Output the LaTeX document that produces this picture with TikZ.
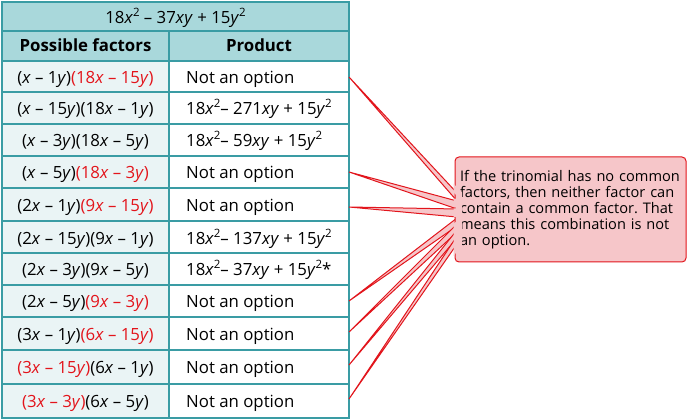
\documentclass[tikz,border=0pt]{standalone}
\usepackage{fontspec}
\setmainfont{Open Sans}
\definecolor{tblline}{HTML}{3A9CA4}
\definecolor{tblhead}{HTML}{A9D8DB}
\definecolor{tblleft}{HTML}{EAF4F5}
\definecolor{redtxt}{HTML}{E3141B}
\definecolor{calfill}{HTML}{F6C6C9}
\definecolor{calline}{HTML}{E2151C}
\newcommand{\vX}{\textit{x}}
\newcommand{\vY}{\textit{y}}
\newcommand{\sqr}{\raisebox{0.42em}{\fontsize{11.5}{12}\selectfont 2}}
\newcommand{\rd}[1]{\textcolor{redtxt}{#1}}
\frenchspacing
\tikzset{
  cellfont/.style={font=\fontsize{16.8}{19}\selectfont, inner sep=0pt, text=black},
  cellL/.style={cellfont, anchor=base},
  cellR/.style={cellfont, anchor=base west},
  headcell/.style={cellfont, anchor=base, font=\fontsize{16.8}{19}\selectfont\bfseries},
  grid/.style={draw=tblline, line width=2pt},
  spike/.style={fill=calfill, draw=calline, line width=1pt, line join=miter},
  callbox/.style={fill=calfill, draw=calline, line width=1pt, rounded corners=4pt,
    minimum width=231pt, minimum height=105pt, inner xsep=5pt, inner ysep=0pt,
    text width=221pt, align=left, font=\fontsize{14.6}{16}\selectfont\frenchspacing, text=black}
}
\begin{document}
\begin{tikzpicture}[x=1pt,y=-1pt]
\useasboundingbox (0,0) rectangle (687,419);
% table backgrounds
\fill[tblhead] (2,2) rectangle (349,61.5);
\fill[tblleft] (2,61.5) rectangle (169,418);
\fill[white] (169,61.5) rectangle (349,418);
% grid lines
\foreach \yy in {31,61.5,92.3,124.3,156,188.5,221.5,253.5,285.2,317,350,383.5}
  \draw[grid] (2,\yy) -- (349,\yy);
\draw[grid] (169,31) -- (169,418);
\draw[grid] (2,2) rectangle (349,418);
% title and headers
\node[cellL] (title) at (175.5,23.2) {18\vX\sqr{} – 37\vX\vY{} + 15\vY\sqr};
\node[headcell] (h1) at (85.5,52) {Possible factors};
\node[headcell] (h2) at (259,52) {Product};
% rows
\node[cellL] (f0) at (85.5,84) {(\vX{} – 1\vY)\rd{(18\vX{} – 15\vY)}};
\node[cellR] (p0) at (186,84) {Not an option};
\node[cellL] (f1) at (85.5,115) {(\vX{} – 15\vY)(18\vX{} – 1\vY)};
\node[cellR] (p1) at (186,115) {18\vX\sqr– 271\vX\vY{} + 15\vY\sqr};
\node[cellL] (f2) at (85.5,146.8) {(\vX{} – 3\vY)(18\vX{} – 5\vY)};
\node[cellR] (p2) at (186,146.8) {18\vX\sqr– 59\vX\vY{} + 15\vY\sqr};
\node[cellL] (f3) at (85.5,179) {(\vX{} – 5\vY)\rd{(18\vX{} – 3\vY)}};
\node[cellR] (p3) at (186,179) {Not an option};
\node[cellL] (f4) at (85.5,211.7) {(2\vX{} – 1\vY)\rd{(9\vX{} – 15\vY)}};
\node[cellR] (p4) at (186,211.7) {Not an option};
\node[cellL] (f5) at (85.5,244.2) {(2\vX{} – 15\vY)(9\vX{} – 1\vY)};
\node[cellR] (p5) at (186,244.2) {18\vX\sqr– 137\vX\vY{} + 15\vY\sqr};
\node[cellL] (f6) at (85.5,276) {(2\vX{} – 3\vY)(9\vX{} – 5\vY)};
\node[cellR] (p6) at (186,276) {18\vX\sqr– 37\vX\vY{} + 15\vY\sqr*};
\node[cellL] (f7) at (85.5,307.8) {(2\vX{} – 5\vY)\rd{(9\vX{} – 3\vY)}};
\node[cellR] (p7) at (186,307.8) {Not an option};
\node[cellL] (f8) at (85.5,340.2) {(3\vX{} – 1\vY)\rd{(6\vX{} – 15\vY)}};
\node[cellR] (p8) at (186,340.2) {Not an option};
\node[cellL] (f9) at (85.5,373.5) {\rd{(3\vX{} – 15\vY)}(6\vX{} – 1\vY)};
\node[cellR] (p9) at (186,373.5) {Not an option};
\node[cellL] (f10) at (85.5,407.5) {\rd{(3\vX{} – 3\vY)}(6\vX{} – 5\vY)};
\node[cellR] (p10) at (186,407.5) {Not an option};
% spike tips on the table edge
\coordinate (t0) at (349,77);
\coordinate (t3) at (349,172);
\coordinate (t4) at (349,207);
\coordinate (t7) at (349,301);
\coordinate (t8) at (349,332);
\coordinate (t9) at (349,365);
\coordinate (t10) at (349,399);
% spikes
\foreach \t/\b in {t0/197,t3/205,t4/213,t7/222,t8/228,t9/234,t10/240}
  \path[spike] (\t) -- (457,\b-4) -- (457,\b+4) -- cycle;
% callout box
\node[callbox] (c) at (570.5,209.5) {If the trinomial has no common\\factors, then neither factor can\\contain a common factor. That\\means this combination is not\\an option.};
% merge spikes into the box
\begin{scope}
  \clip (453.5,150) rectangle (470,270);
  \foreach \t/\b in {t0/197,t3/205,t4/213,t7/222,t8/228,t9/234,t10/240}
    \fill[calfill] (\t) -- (462,\b-4.6) -- (462,\b+4.6) -- cycle;
\end{scope}
\end{tikzpicture}
\end{document}
